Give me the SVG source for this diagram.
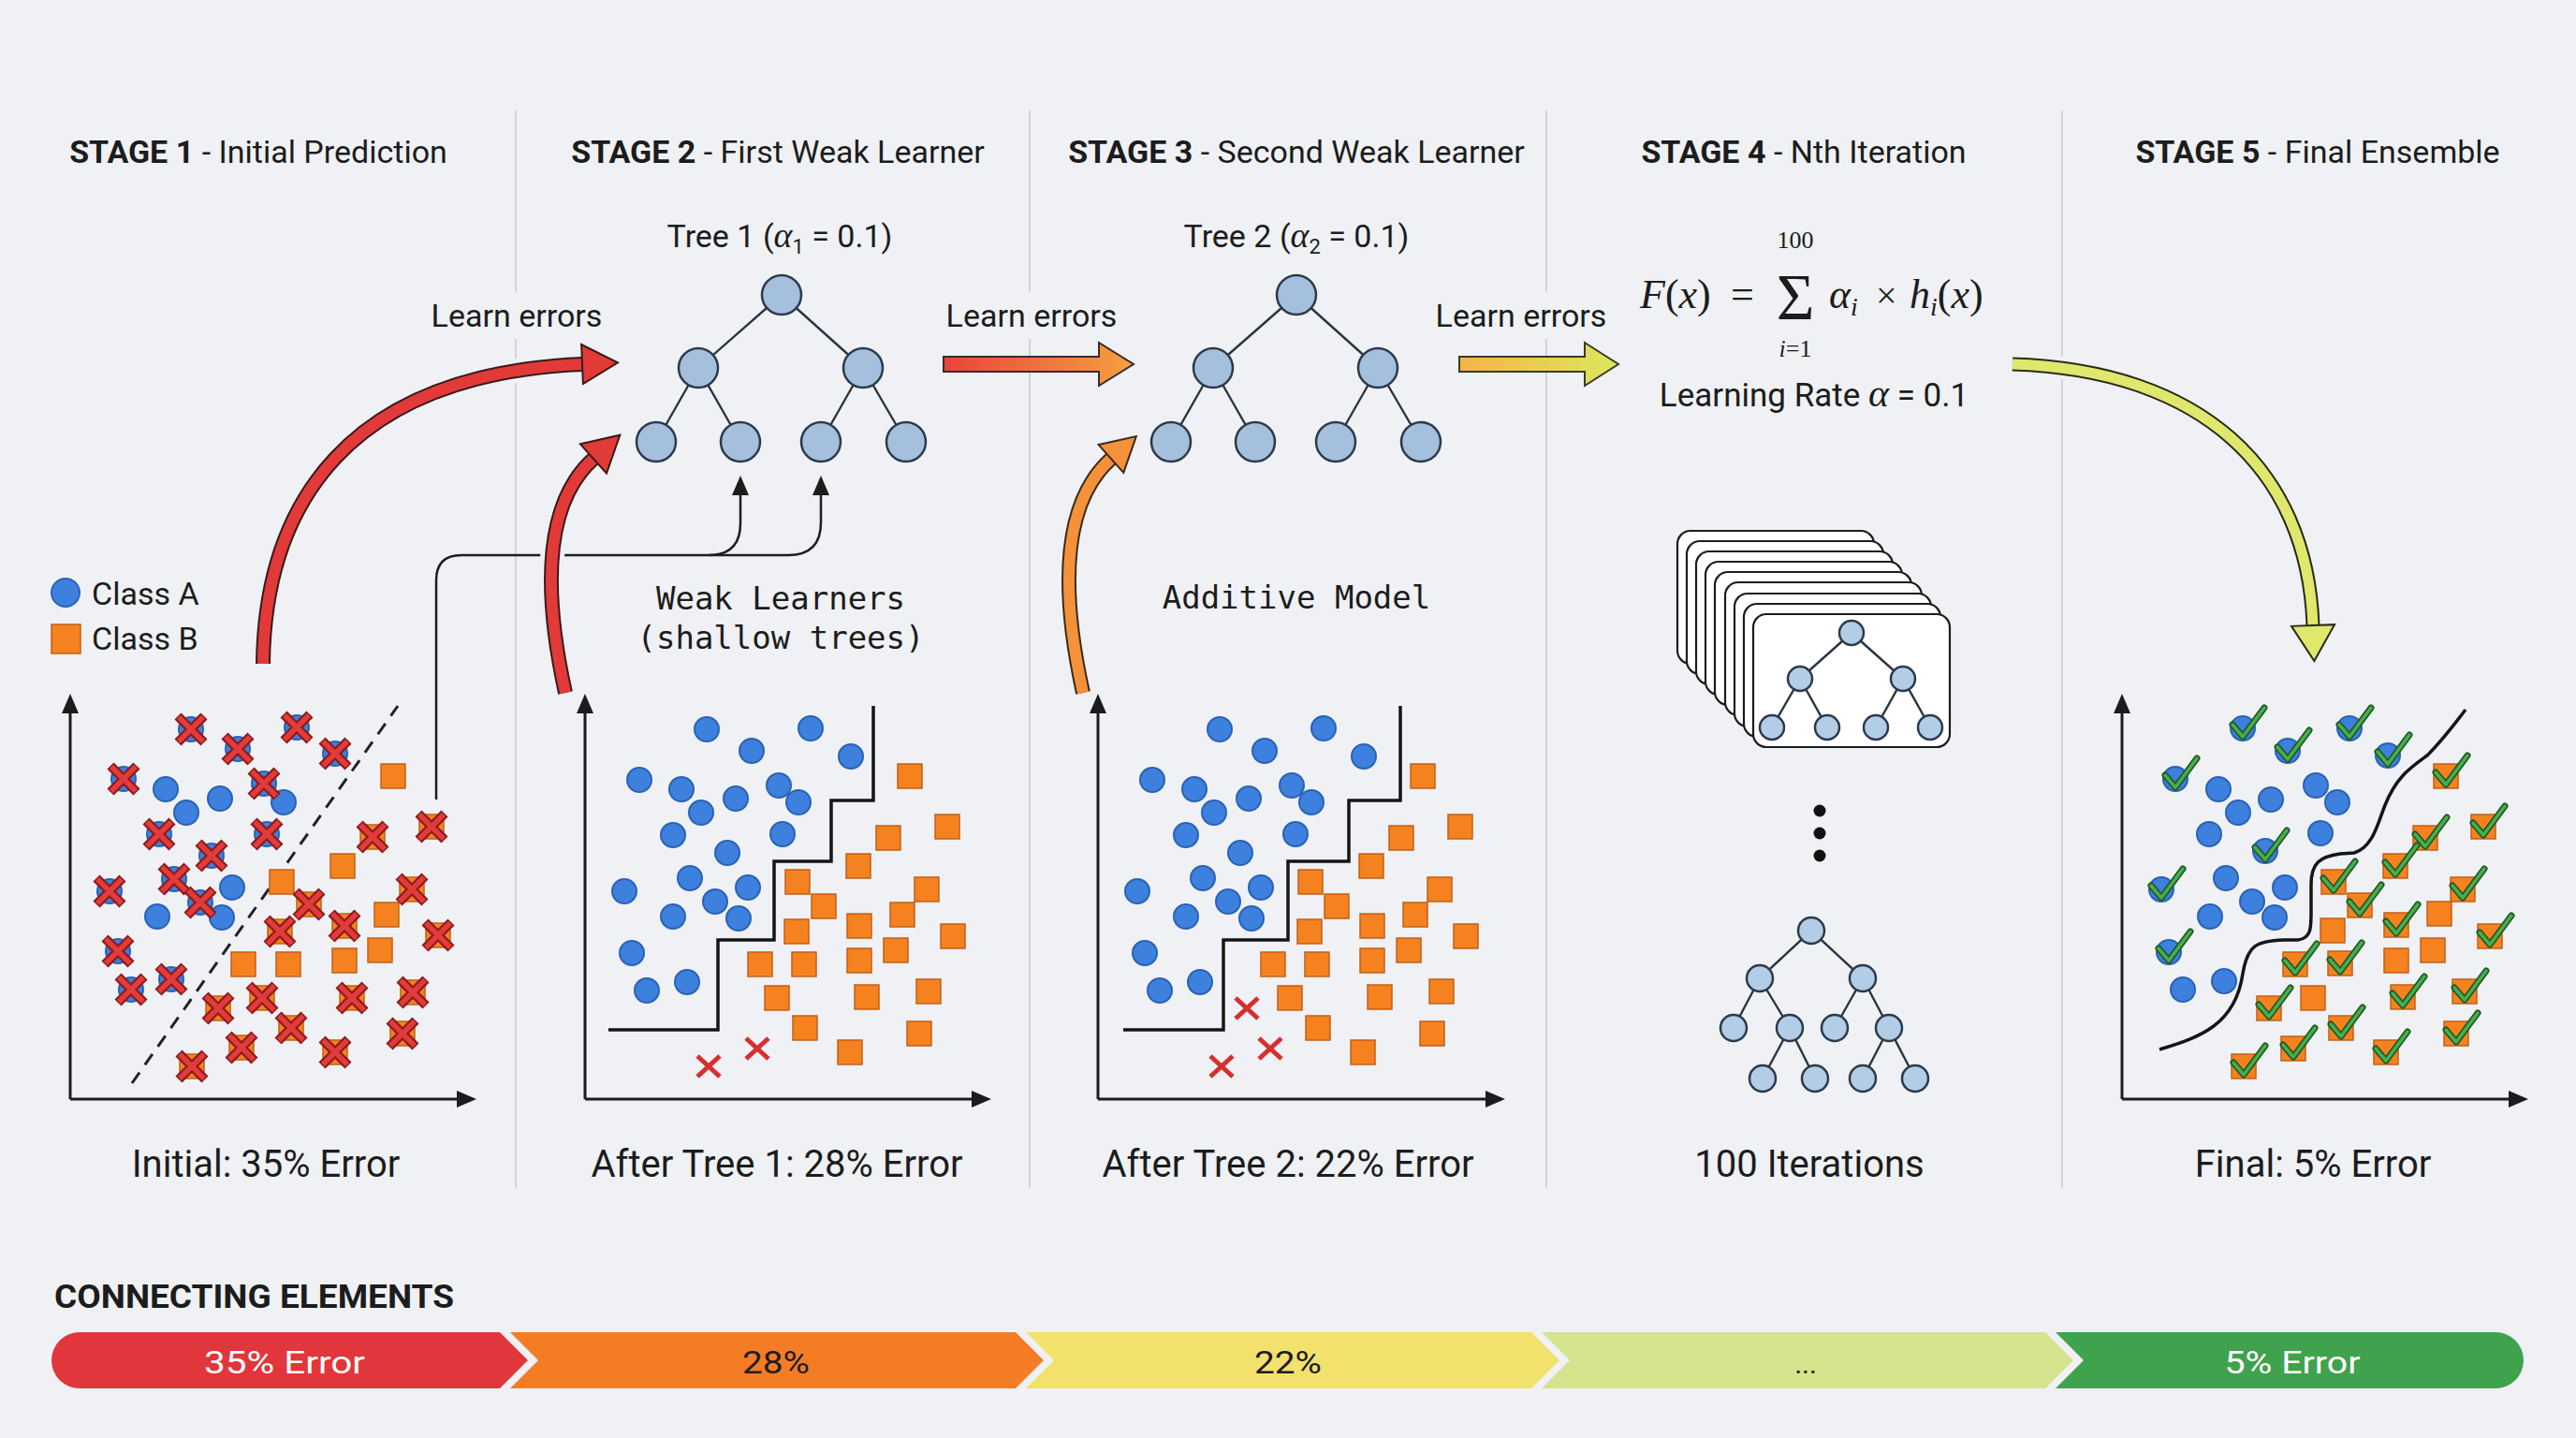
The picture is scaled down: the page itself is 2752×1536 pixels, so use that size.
<svg xmlns="http://www.w3.org/2000/svg" width="2752" height="1536" viewBox="0 0 2752 1536">
<style>
.t{font-family:Roboto,"Liberation Sans",sans-serif;fill:#1c1c1c}
.title{font-size:34px}
.lbl{font-size:34px}
.cap{font-size:40px}
.mono{font-family:"DejaVu Sans Mono","Liberation Mono",monospace;font-size:34px;fill:#1c1c1c}
.math{font-family:"Liberation Serif","DejaVu Serif",serif;fill:#1c1c1c}
.div{stroke:#c9cdd3;stroke-width:1.6}
.ax{stroke:#1c1c1c;stroke-width:3;fill:none}
.axh{fill:#1c1c1c}
.edge{stroke:#2c3440;stroke-width:2.4}
.node{fill:#a5c0dd;stroke:#2c3a4c;stroke-width:2.5}
.node4{fill:#b3cde6;stroke:#2c3a4c;stroke-width:2.5}
.card{fill:#ffffff;stroke:#1c1c1c;stroke-width:2.2}
.bnd{stroke:#151515;stroke-width:3.5;fill:none}
.conn{stroke:#1e1e1e;stroke-width:2.5;fill:none}
.halo{stroke:#eff1f4;fill:none}
</style>
<defs>
<circle id="bc" r="13" fill="#3d80de" stroke="#2a62b6" stroke-width="2"/>
<rect id="os" x="-13" y="-13" width="26" height="26" fill="#f5821f" stroke="#c25f18" stroke-width="1.5"/>
<g id="xb"><path d="M-14,-14 L14,14 M-14,14 L14,-14" stroke="#8e1b1b" stroke-width="10"/><path d="M-13,-13 L13,13 M-13,13 L13,-13" stroke="#e23b3b" stroke-width="5.5"/></g>
<g id="xs"><path d="M-12,-11 L12,11 M-12,11 L12,-11" stroke="#d62f2f" stroke-width="5"/></g>
<g id="ck"><path d="M-11,-4 L0,9 L23,-22" fill="none" stroke="#1f5a22" stroke-width="7" stroke-linejoin="round" stroke-linecap="round"/><path d="M-11,-4 L0,9 L23,-22" fill="none" stroke="#49ad4f" stroke-width="3.5" stroke-linejoin="round" stroke-linecap="round"/></g>
<marker id="mRed" markerUnits="userSpaceOnUse" viewBox="-3 -26 46 52" markerWidth="46" markerHeight="52" refX="0" refY="0" orient="auto" overflow="visible"><path d="M0,-21 L38,0 L0,21 Z" fill="#e23a36" stroke="#3a1a1a" stroke-width="2"/></marker>
<marker id="mOr" markerUnits="userSpaceOnUse" viewBox="-3 -26 46 52" markerWidth="46" markerHeight="52" refX="0" refY="0" orient="auto" overflow="visible"><path d="M0,-20 L36,0 L0,20 Z" fill="#f5913a" stroke="#3a2a1a" stroke-width="2"/></marker>
<marker id="mYe" markerUnits="userSpaceOnUse" viewBox="-3 -26 46 52" markerWidth="46" markerHeight="52" refX="0" refY="0" orient="auto" overflow="visible"><path d="M0,-23 L38,0 L0,23 Z" fill="#dfe86c" stroke="#2a2a1a" stroke-width="2"/></marker>
<linearGradient id="g23" gradientUnits="userSpaceOnUse" x1="1008" y1="0" x2="1211" y2="0"><stop offset="0" stop-color="#e8443a"/><stop offset="1" stop-color="#f5a040"/></linearGradient>
<linearGradient id="g34" gradientUnits="userSpaceOnUse" x1="1559" y1="0" x2="1729" y2="0"><stop offset="0" stop-color="#f6b347"/><stop offset="1" stop-color="#dce85a"/></linearGradient>
<g id="cloud2">
<use href="#bc" x="755" y="779"/><use href="#bc" x="866" y="778"/><use href="#bc" x="803" y="802"/><use href="#bc" x="909" y="808"/>
<use href="#bc" x="683" y="833"/><use href="#bc" x="728" y="843"/><use href="#bc" x="832" y="839"/><use href="#bc" x="786" y="853"/>
<use href="#bc" x="853" y="857"/><use href="#bc" x="749" y="868"/><use href="#bc" x="719" y="892"/><use href="#bc" x="836" y="891"/>
<use href="#bc" x="777" y="911"/><use href="#bc" x="737" y="938"/><use href="#bc" x="667" y="952"/><use href="#bc" x="799" y="948"/>
<use href="#bc" x="764" y="963"/><use href="#bc" x="719" y="979"/><use href="#bc" x="789" y="981"/><use href="#bc" x="675" y="1018"/>
<use href="#bc" x="691" y="1058"/><use href="#bc" x="734" y="1049"/>
<use href="#os" x="972" y="829"/><use href="#os" x="1012" y="883"/><use href="#os" x="949" y="895"/><use href="#os" x="917" y="925"/>
<use href="#os" x="852" y="942"/><use href="#os" x="880" y="968"/><use href="#os" x="990" y="950"/><use href="#os" x="964" y="977"/>
<use href="#os" x="918" y="989"/><use href="#os" x="851" y="995"/><use href="#os" x="1018" y="1000"/><use href="#os" x="957" y="1015"/>
<use href="#os" x="918" y="1026"/><use href="#os" x="812" y="1030"/><use href="#os" x="859" y="1030"/><use href="#os" x="830" y="1066"/>
<use href="#os" x="926" y="1065"/><use href="#os" x="992" y="1059"/><use href="#os" x="860" y="1098"/><use href="#os" x="982" y="1104"/>
<use href="#os" x="908" y="1124"/>
<use href="#xs" x="757" y="1139"/><use href="#xs" x="809" y="1120"/>
</g>
</defs>

<rect width="2752" height="1536" fill="#eff1f4"/>

<g id="dividers">
<line class="div" x1="551" y1="118" x2="551" y2="1269"/>
<line class="div" x1="1100" y1="118" x2="1100" y2="1269"/>
<line class="div" x1="1652" y1="118" x2="1652" y2="1269"/>
<line class="div" x1="2203" y1="118" x2="2203" y2="1269"/>
</g>

<g id="titles" class="t title">
<text x="276" y="174" text-anchor="middle"><tspan font-weight="bold">STAGE 1</tspan> - Initial Prediction</text>
<text x="831" y="174" text-anchor="middle"><tspan font-weight="bold">STAGE 2</tspan> - First Weak Learner</text>
<text x="1385" y="174" text-anchor="middle"><tspan font-weight="bold">STAGE 3</tspan> - Second Weak Learner</text>
<text x="1927" y="174" text-anchor="middle"><tspan font-weight="bold">STAGE 4</tspan> - Nth Iteration</text>
<text x="2476" y="174" text-anchor="middle"><tspan font-weight="bold">STAGE 5</tspan> - Final Ensemble</text>
</g>

<g id="stage1">
<g id="legend">
<circle cx="70" cy="633" r="15" fill="#3d80de" stroke="#2a62b6" stroke-width="2"/>
<text class="t lbl" x="98" y="646">Class A</text>
<rect x="55" y="667" width="31" height="31" fill="#f5821f" stroke="#c25f18" stroke-width="1.5"/>
<text class="t lbl" x="98" y="694">Class B</text>
</g>
<path class="ax" d="M75,1174 L75,758 M75,1174 L492,1174"/>
<path class="axh" d="M75,741 L66,762 L84,762 Z M509,1174 L488,1165 L488,1183 Z"/>
<line x1="141" y1="1157" x2="425" y2="754" stroke="#222" stroke-width="3" stroke-dasharray="14 10"/>
<g id="s1pts">
<use href="#bc" x="177" y="843"/><use href="#bc" x="235" y="853"/><use href="#bc" x="199" y="868"/><use href="#bc" x="303" y="857"/>
<use href="#bc" x="248" y="948"/><use href="#bc" x="168" y="979"/><use href="#bc" x="237" y="980"/>
<use href="#bc" x="204" y="779"/><use href="#bc" x="254" y="800"/><use href="#bc" x="317" y="777"/><use href="#bc" x="358" y="805"/>
<use href="#bc" x="132" y="832"/><use href="#bc" x="282" y="837"/><use href="#bc" x="170" y="891"/><use href="#bc" x="285" y="891"/>
<use href="#bc" x="226" y="914"/><use href="#bc" x="186" y="939"/><use href="#bc" x="214" y="964"/><use href="#bc" x="117" y="952"/>
<use href="#bc" x="126" y="1016"/><use href="#bc" x="140" y="1057"/><use href="#bc" x="183" y="1046"/>
<use href="#os" x="420" y="829"/><use href="#os" x="366" y="925"/><use href="#os" x="301" y="942"/><use href="#os" x="413" y="977"/>
<use href="#os" x="260" y="1030"/><use href="#os" x="308" y="1030"/><use href="#os" x="368" y="1026"/><use href="#os" x="406" y="1015"/>
<use href="#os" x="461" y="883"/><use href="#os" x="398" y="894"/><use href="#os" x="330" y="966"/><use href="#os" x="440" y="950"/>
<use href="#os" x="368" y="989"/><use href="#os" x="299" y="995"/><use href="#os" x="468" y="999"/><use href="#os" x="280" y="1066"/>
<use href="#os" x="376" y="1066"/><use href="#os" x="441" y="1060"/><use href="#os" x="233" y="1077"/><use href="#os" x="311" y="1098"/>
<use href="#os" x="430" y="1104"/><use href="#os" x="258" y="1119"/><use href="#os" x="358" y="1124"/><use href="#os" x="205" y="1139"/>
<use href="#xb" x="204" y="779"/><use href="#xb" x="254" y="800"/><use href="#xb" x="317" y="777"/><use href="#xb" x="358" y="805"/>
<use href="#xb" x="132" y="832"/><use href="#xb" x="282" y="837"/><use href="#xb" x="170" y="891"/><use href="#xb" x="285" y="891"/>
<use href="#xb" x="226" y="914"/><use href="#xb" x="186" y="939"/><use href="#xb" x="214" y="964"/><use href="#xb" x="117" y="952"/>
<use href="#xb" x="126" y="1016"/><use href="#xb" x="140" y="1057"/><use href="#xb" x="183" y="1046"/>
<use href="#xb" x="461" y="883"/><use href="#xb" x="398" y="894"/><use href="#xb" x="330" y="966"/><use href="#xb" x="440" y="950"/>
<use href="#xb" x="368" y="989"/><use href="#xb" x="299" y="995"/><use href="#xb" x="468" y="999"/><use href="#xb" x="280" y="1066"/>
<use href="#xb" x="376" y="1066"/><use href="#xb" x="441" y="1060"/><use href="#xb" x="233" y="1077"/><use href="#xb" x="311" y="1098"/>
<use href="#xb" x="430" y="1104"/><use href="#xb" x="258" y="1119"/><use href="#xb" x="358" y="1124"/><use href="#xb" x="205" y="1139"/>
</g>
<text class="t cap" x="284" y="1257" text-anchor="middle">Initial: 35% Error</text>
</g>

<g id="connectors">
<path class="conn" d="M466,854 L466,620 Q466,593 493,593 L842,593 Q877,593 877,558 L877,526"/>
<path class="conn" d="M757,593 Q791,593 791,559 L791,526"/>
<path class="axh" d="M791,508 L782,529 L800,529 Z M877,508 L868,529 L886,529 Z"/>
<path class="halo" stroke-width="26" d="M 281 709 C 283 540, 370 400, 622 389"/>
<path stroke="#3a1a1a" stroke-width="16" fill="none" d="M 281 709 C 283 540, 370 400, 622 389"/>
<path stroke="#e13a38" stroke-width="12" fill="none" marker-end="url(#mRed)" d="M 281 709 C 283 540, 370 400, 622 389"/>
<path class="halo" stroke-width="26" d="M 604 740 C 582 640, 578 540, 634 490"/>
<path stroke="#3a1a1a" stroke-width="16" fill="none" d="M 604 740 C 582 640, 578 540, 634 490"/>
<path stroke="#e13a38" stroke-width="12" fill="none" marker-end="url(#mRed)" d="M 604 740 C 582 640, 578 540, 634 490"/>
<path class="halo" stroke-width="26" d="M 1157 740 C 1135 640, 1131 540, 1187 490"/>
<path stroke="#3a2a1a" stroke-width="16" fill="none" d="M 1157 740 C 1135 640, 1131 540, 1187 490"/>
<path stroke="#f5913a" stroke-width="12" fill="none" marker-end="url(#mOr)" d="M 1157 740 C 1135 640, 1131 540, 1187 490"/>
<path d="M1008,381 L1174,381 L1174,366 L1211,389 L1174,412 L1174,397 L1008,397 Z" fill="url(#g23)" stroke="#3a2a2a" stroke-width="2"/>
<path d="M1559,381 L1693,381 L1693,366 L1729,389 L1693,412 L1693,397 L1559,397 Z" fill="url(#g34)" stroke="#3a3a2a" stroke-width="2"/>
<path class="halo" stroke-width="24" d="M 2150 389 C 2350 395, 2465 500, 2471 668"/>
<path stroke="#2a2a1a" stroke-width="15" fill="none" d="M 2150 389 C 2350 395, 2465 500, 2471 668"/>
<path stroke="#dfe86c" stroke-width="11" fill="none" marker-end="url(#mYe)" d="M 2150 389 C 2350 395, 2465 500, 2471 668"/>
</g>

<g id="learn-labels" class="t lbl">
<rect x="452" y="312" width="200" height="50" fill="#eff1f4"/>
<rect x="1002" y="312" width="200" height="50" fill="#eff1f4"/>
<rect x="1525" y="312" width="200" height="50" fill="#eff1f4"/>
<text x="552" y="349" text-anchor="middle">Learn errors</text>
<text x="1102" y="349" text-anchor="middle">Learn errors</text>
<text x="1625" y="349" text-anchor="middle">Learn errors</text>
</g>

<g id="stage2">
<text class="t lbl" x="833" y="264" text-anchor="middle" font-size="33">Tree 1 (<tspan class="math" font-style="italic" font-size="38">α</tspan><tspan dy="7" font-size="22">1</tspan><tspan dy="-7"> = 0.1)</tspan></text>
<g id="tree1">
<path class="edge" d="M835,315 L746,393 M835,315 L922,393 M746,393 L701,472 M746,393 L791,472 M922,393 L877,472 M922,393 L968,472"/>
<circle class="node" cx="835" cy="315" r="21"/><circle class="node" cx="746" cy="393" r="21"/><circle class="node" cx="922" cy="393" r="21"/>
<circle class="node" cx="701" cy="472" r="21"/><circle class="node" cx="791" cy="472" r="21"/><circle class="node" cx="877" cy="472" r="21"/><circle class="node" cx="968" cy="472" r="21"/>
</g>
<text class="mono" x="834" y="651" text-anchor="middle">Weak Learners</text>
<text class="mono" x="834" y="693" text-anchor="middle">(shallow trees)</text>
<path class="ax" d="M625,1174 L625,758 M625,1174 L1041,1174"/>
<path class="axh" d="M625,741 L616,762 L634,762 Z M1059,1174 L1038,1165 L1038,1183 Z"/>
<path class="bnd" d="M650,1100 L767,1100 L767,1004 L827,1004 L827,920 L888,920 L888,855 L933,855 L933,754"/>
<use href="#cloud2"/>
<text class="t cap" x="830" y="1257" text-anchor="middle">After Tree 1: 28% Error</text>
</g>

<g id="stage3">
<text class="t lbl" x="1385" y="264" text-anchor="middle" font-size="33">Tree 2 (<tspan class="math" font-style="italic" font-size="38">α</tspan><tspan dy="7" font-size="22">2</tspan><tspan dy="-7"> = 0.1)</tspan></text>
<g id="tree2">
<path class="edge" d="M1385,315 L1296,393 M1385,315 L1472,393 M1296,393 L1251,472 M1296,393 L1341,472 M1472,393 L1427,472 M1472,393 L1518,472"/>
<circle class="node" cx="1385" cy="315" r="21"/><circle class="node" cx="1296" cy="393" r="21"/><circle class="node" cx="1472" cy="393" r="21"/>
<circle class="node" cx="1251" cy="472" r="21"/><circle class="node" cx="1341" cy="472" r="21"/><circle class="node" cx="1427" cy="472" r="21"/><circle class="node" cx="1518" cy="472" r="21"/>
</g>
<text class="mono" x="1385" y="650" text-anchor="middle">Additive Model</text>
<path class="ax" d="M1173,1174 L1173,758 M1173,1174 L1590,1174"/>
<path class="axh" d="M1173,741 L1164,762 L1182,762 Z M1608,1174 L1587,1165 L1587,1183 Z"/>
<path class="bnd" d="M1200,1100 L1307,1100 L1307,1004 L1376,1004 L1376,920 L1441,920 L1441,855 L1496,855 L1496,754"/>
<use href="#cloud2" x="548" y="0"/>
<use href="#xs" x="1332" y="1077"/>
<text class="t cap" x="1376" y="1257" text-anchor="middle">After Tree 2: 22% Error</text>
</g>

<g id="stage4">
<g id="formula">
<text class="math" x="1752" y="329" font-size="44"><tspan font-style="italic">F</tspan>(<tspan font-style="italic">x</tspan>)</text>
<text class="math" x="1849" y="329" font-size="44">=</text>
<text class="math" x="1918" y="341" font-size="70" text-anchor="middle">Σ</text>
<text class="math" x="1918" y="265" font-size="26" text-anchor="middle">100</text>
<text class="math" x="1918" y="381" font-size="26" text-anchor="middle"><tspan font-style="italic">i</tspan>=1</text>
<text class="math" x="1954" y="329" font-size="44"><tspan font-style="italic">α</tspan><tspan font-style="italic" font-size="28" dy="8">i</tspan></text>
<text class="math" x="2004" y="329" font-size="40">×</text>
<text class="math" x="2040" y="329" font-size="44"><tspan font-style="italic">h</tspan><tspan font-style="italic" font-size="28" dy="8">i</tspan><tspan dy="-8">(</tspan><tspan font-style="italic">x</tspan>)</text>
<text class="t" x="1938" y="434" text-anchor="middle" font-size="35">Learning Rate <tspan class="math" font-style="italic" font-size="42">α</tspan> = 0.1</text>
</g>
<g id="cards">
<rect class="card" x="1792" y="567" width="210" height="142" rx="14"/>
<rect class="card" x="1802" y="578" width="210" height="142" rx="14"/>
<rect class="card" x="1812" y="589" width="210" height="142" rx="14"/>
<rect class="card" x="1822" y="600" width="210" height="142" rx="14"/>
<rect class="card" x="1832" y="611" width="210" height="142" rx="14"/>
<rect class="card" x="1843" y="622" width="210" height="142" rx="14"/>
<rect class="card" x="1853" y="634" width="210" height="142" rx="14"/>
<rect class="card" x="1863" y="645" width="210" height="142" rx="14"/>
<rect class="card" x="1873" y="656" width="210" height="142" rx="14"/>
<path class="edge" d="M1978,676 L1923,725 M1978,676 L2033,725 M1923,725 L1893,777 M1923,725 L1952,777 M2033,725 L2004,777 M2033,725 L2062,777"/>
<circle class="node4" cx="1978" cy="676" r="13"/><circle class="node4" cx="1923" cy="725" r="13"/><circle class="node4" cx="2033" cy="725" r="13"/>
<circle class="node4" cx="1893" cy="777" r="13"/><circle class="node4" cx="1952" cy="777" r="13"/><circle class="node4" cx="2004" cy="777" r="13"/><circle class="node4" cx="2062" cy="777" r="13"/>
</g>
<circle cx="1944" cy="866" r="6.5" fill="#111"/><circle cx="1944" cy="890" r="6.5" fill="#111"/><circle cx="1944" cy="914" r="6.5" fill="#111"/>
<g id="tree100">
<path class="edge" d="M1935,994 L1880,1045 M1935,994 L1990,1045 M1880,1045 L1852,1098 M1880,1045 L1912,1098 M1990,1045 L1960,1098 M1990,1045 L2018,1098 M1912,1098 L1883,1152 M1912,1098 L1939,1152 M2018,1098 L1990,1152 M2018,1098 L2046,1152"/>
<circle class="node4" cx="1935" cy="994" r="14"/><circle class="node4" cx="1880" cy="1045" r="14"/><circle class="node4" cx="1990" cy="1045" r="14"/>
<circle class="node4" cx="1852" cy="1098" r="14"/><circle class="node4" cx="1912" cy="1098" r="14"/><circle class="node4" cx="1960" cy="1098" r="14"/><circle class="node4" cx="2018" cy="1098" r="14"/>
<circle class="node4" cx="1883" cy="1152" r="14"/><circle class="node4" cx="1939" cy="1152" r="14"/><circle class="node4" cx="1990" cy="1152" r="14"/><circle class="node4" cx="2046" cy="1152" r="14"/>
</g>
<text class="t cap" x="1933" y="1257" text-anchor="middle">100 Iterations</text>
</g>

<g id="stage5">
<path class="ax" d="M2267,1174 L2267,758 M2267,1174 L2683,1174"/>
<path class="axh" d="M2267,741 L2258,762 L2276,762 Z M2701,1174 L2680,1165 L2680,1183 Z"/>
<path class="bnd" stroke-width="3" d="M2307,1121 C2350,1108 2388,1095 2396,1040 C2401,1010 2410,1005 2440,1004 L2455,1004 C2470,1002 2469,990 2469,970 L2469,945 C2469,922 2478,915 2500,912 L2515,911 C2535,905 2540,880 2548,860 C2560,830 2575,820 2593,807 C2610,790 2625,770 2634,758"/>
<use href="#bc" x="2370" y="843"/><use href="#bc" x="2426" y="854"/><use href="#bc" x="2391" y="868"/><use href="#bc" x="2474" y="839"/>
<use href="#bc" x="2497" y="857"/><use href="#bc" x="2360" y="891"/><use href="#bc" x="2479" y="890"/><use href="#bc" x="2378" y="938"/>
<use href="#bc" x="2441" y="948"/><use href="#bc" x="2406" y="963"/><use href="#bc" x="2361" y="979"/><use href="#bc" x="2430" y="980"/>
<use href="#bc" x="2332" y="1057"/><use href="#bc" x="2376" y="1048"/>
<use href="#bc" x="2396" y="778"/><use href="#bc" x="2444" y="802"/><use href="#bc" x="2510" y="778"/><use href="#bc" x="2551" y="807"/>
<use href="#bc" x="2324" y="832"/><use href="#bc" x="2420" y="909"/><use href="#bc" x="2309" y="950"/><use href="#bc" x="2317" y="1017"/>
<use href="#os" x="2606" y="976"/><use href="#os" x="2492" y="994"/><use href="#os" x="2599" y="1015"/><use href="#os" x="2560" y="1026"/><use href="#os" x="2471" y="1066"/>
<use href="#os" x="2613" y="829"/><use href="#os" x="2653" y="883"/><use href="#os" x="2591" y="895"/><use href="#os" x="2559" y="925"/>
<use href="#os" x="2493" y="942"/><use href="#os" x="2521" y="967"/><use href="#os" x="2631" y="950"/><use href="#os" x="2560" y="988"/>
<use href="#os" x="2660" y="1000"/><use href="#os" x="2452" y="1030"/><use href="#os" x="2500" y="1029"/><use href="#os" x="2567" y="1065"/>
<use href="#os" x="2633" y="1059"/><use href="#os" x="2424" y="1077"/><use href="#os" x="2501" y="1098"/><use href="#os" x="2624" y="1104"/>
<use href="#os" x="2450" y="1120"/><use href="#os" x="2549" y="1124"/><use href="#os" x="2397" y="1139"/>
<use href="#ck" x="2396" y="778"/><use href="#ck" x="2444" y="802"/><use href="#ck" x="2510" y="778"/><use href="#ck" x="2551" y="807"/>
<use href="#ck" x="2324" y="832"/><use href="#ck" x="2420" y="909"/><use href="#ck" x="2309" y="950"/><use href="#ck" x="2317" y="1017"/>
<use href="#ck" x="2613" y="829"/><use href="#ck" x="2653" y="883"/><use href="#ck" x="2591" y="895"/><use href="#ck" x="2559" y="925"/>
<use href="#ck" x="2493" y="942"/><use href="#ck" x="2521" y="967"/><use href="#ck" x="2631" y="950"/><use href="#ck" x="2560" y="988"/>
<use href="#ck" x="2660" y="1000"/><use href="#ck" x="2452" y="1030"/><use href="#ck" x="2500" y="1029"/><use href="#ck" x="2567" y="1065"/>
<use href="#ck" x="2633" y="1059"/><use href="#ck" x="2424" y="1077"/><use href="#ck" x="2501" y="1098"/><use href="#ck" x="2624" y="1104"/>
<use href="#ck" x="2450" y="1120"/><use href="#ck" x="2549" y="1124"/><use href="#ck" x="2397" y="1139"/>
<text class="t cap" x="2471" y="1257" text-anchor="middle">Final: 5% Error</text>
</g>

<g id="progress-bar">
<text class="t" x="58" y="1397" font-size="35" font-weight="bold" textLength="427" lengthAdjust="spacingAndGlyphs">CONNECTING ELEMENTS</text>
<path d="M85,1423 L534,1423 L564,1453 L534,1483 L85,1483 A30,30 0 0 1 85,1423 Z" fill="#e1363b"/>
<path d="M545,1423 L1085,1423 L1115,1453 L1085,1483 L545,1483 L575,1453 Z" fill="#f47c25"/>
<path d="M1096,1423 L1636,1423 L1666,1453 L1636,1483 L1096,1483 L1126,1453 Z" fill="#f2e16c"/>
<path d="M1647,1423 L2185,1423 L2215,1453 L2185,1483 L1647,1483 L1677,1453 Z" fill="#d4e38c"/>
<path d="M2196,1423 L2666,1423 A30,30 0 0 1 2666,1483 L2196,1483 L2226,1453 Z" fill="#3fa24c"/>
<text class="t" x="304" y="1467" text-anchor="middle" font-size="34" style="fill:#ffffff" textLength="172" lengthAdjust="spacingAndGlyphs">35% Error</text>
<text class="t" x="829" y="1467" text-anchor="middle" font-size="34" textLength="72" lengthAdjust="spacingAndGlyphs">28%</text>
<text class="t" x="1376" y="1467" text-anchor="middle" font-size="34" textLength="72" lengthAdjust="spacingAndGlyphs">22%</text>
<text class="t" x="1929" y="1467" text-anchor="middle" font-size="30">...</text>
<text class="t" x="2449" y="1467" text-anchor="middle" font-size="34" style="fill:#ffffff" textLength="145" lengthAdjust="spacingAndGlyphs">5% Error</text>
</g>
</svg>
